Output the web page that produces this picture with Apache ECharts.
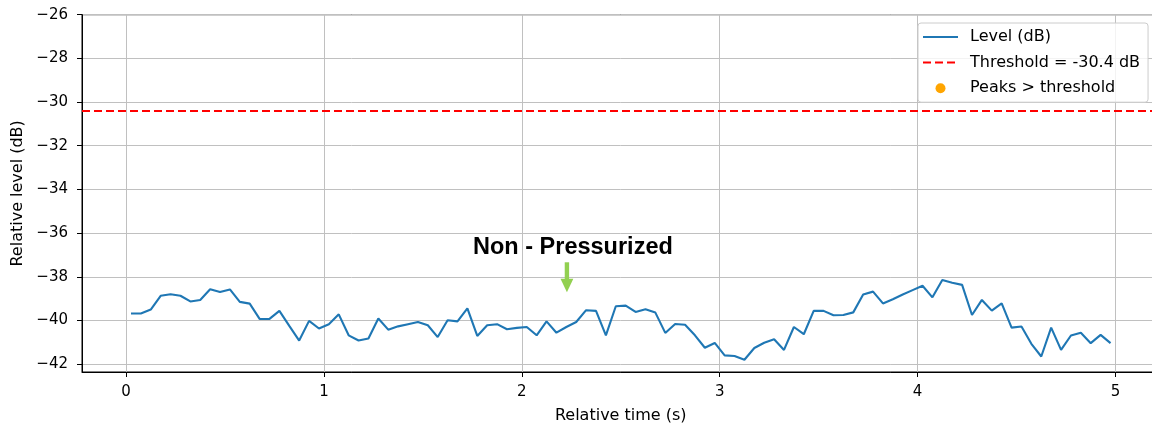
<!DOCTYPE html>
<html>
<head>
<meta charset="utf-8">
<script src="https://cdn.jsdelivr.net/npm/echarts@6/dist/echarts.min.js"></script>
<style>
  html, body { margin: 0; padding: 0; background: #ffffff; width: 1152px; height: 429px; overflow: hidden; }
  #frame { position: relative; width: 1152px; height: 429px; overflow: hidden; }
  /* the axes frame runs a few pixels past the right edge of the view */
  #chart { position: absolute; left: 0; top: 0; width: 1160px; height: 429px; }
</style>
</head>
<body>
<div id="frame"><div id="chart"></div></div>
<script>
// Frame timing of the level analysis (seconds)
const FRAME_HOP = 0.05;
const FRAME_OFFSET = 0.025;

// Relative level per analysis frame (dB)
const levelDb = [
  -39.68, -39.68, -39.50, -38.87, -38.80, -38.87, -39.13, -39.06, -38.57, -38.70,
  -38.58, -39.15, -39.23, -39.93, -39.93, -39.56, -40.25, -40.92, -40.02, -40.37,
  -40.17, -39.72, -40.68, -40.92, -40.83, -39.91, -40.42, -40.27, -40.17, -40.07,
  -40.22, -40.76, -39.99, -40.04, -39.45, -40.71, -40.22, -40.17, -40.40, -40.34,
  -40.30, -40.68, -40.04, -40.56, -40.30, -40.07, -39.53, -39.56, -40.68, -39.35,
  -39.32, -39.61, -39.49, -39.64, -40.57, -40.16, -40.20, -40.68, -41.25, -41.03,
  -41.60, -41.63, -41.80, -41.26, -41.02, -40.86, -41.35, -40.30, -40.63, -39.56,
  -39.56, -39.76, -39.75, -39.63, -38.81, -38.68, -39.22, -39.03, -38.81, -38.61,
  -38.41, -38.94, -38.15, -38.27, -38.37, -39.75, -39.06, -39.55, -39.22, -40.33,
  -40.28, -41.07, -41.65, -40.33, -41.35, -40.69, -40.56, -41.04, -40.66, -41.04
];

// Detected peaks above threshold: [time, level]
const peaks = [];

const thresholdDb = -30.4;

const xTicks = [0, 1, 2, 3, 4, 5];
const yTicks = [-42, -40, -38, -36, -34, -32, -30, -28, -26];
const xRange = [-0.2225, 5.2225];
const yRange = [-42.36, -26];

// Callout: text plus a downward arrow whose tip sits at this (time, level)
const calloutText = 'Non - Pressurized';
const calloutTip = [2.228, -38.71];

const levelSeries = levelDb.map((v, i) => [FRAME_OFFSET + i * FRAME_HOP, v]);

const FONT = 'DejaVu Sans';
const minusFmt = v => (v < 0 ? '\u2212' : '') + Math.abs(v);

const chart = echarts.init(document.getElementById('chart'), null, { renderer: 'canvas' });

chart.setOption({
  animation: false,
  backgroundColor: '#ffffff',
  grid: {
    left: 82, top: 14.7, right: 0.5, bottom: 53.3,
    show: true, borderColor: '#000000', borderWidth: 1, backgroundColor: 'transparent'
  },
  xAxis: {
    type: 'value', min: xRange[0], max: xRange[1],
    name: 'Relative time (s)', nameLocation: 'middle', nameGap: 36,
    nameTextStyle: { fontFamily: FONT, fontSize: 16, color: '#000000' },
    axisLine: { show: true, onZero: false, lineStyle: { color: '#000000', width: 1 } },
    axisTick: { show: true, length: 5, lineStyle: { color: '#000000', width: 1 }, customValues: xTicks },
    axisLabel: { customValues: xTicks, margin: 13, fontFamily: FONT, fontSize: 15, color: '#000000', formatter: minusFmt },
    splitLine: { show: true, lineStyle: { color: '#c0c0c0', width: 1 } }
  },
  yAxis: {
    type: 'value', min: yRange[0], max: yRange[1],
    name: 'Relative level (dB)', nameLocation: 'middle', nameGap: 52,
    nameTextStyle: { fontFamily: FONT, fontSize: 16, color: '#000000' },
    axisLine: { show: true, onZero: false, lineStyle: { color: '#000000', width: 1 } },
    axisTick: { show: true, length: 5, lineStyle: { color: '#000000', width: 1 }, customValues: yTicks },
    axisLabel: { customValues: yTicks, margin: 14, fontFamily: FONT, fontSize: 15, color: '#000000', formatter: minusFmt },
    splitLine: { show: true, lineStyle: { color: '#c0c0c0', width: 1 } }
  },
  legend: {
    orient: 'vertical', left: 918, top: 23,
    padding: [5, 8, 5, 4],
    itemWidth: 35, itemHeight: 10, itemGap: 7.6,
    backgroundColor: 'rgba(255,255,255,0.8)',
    borderColor: '#cccccc', borderWidth: 1, borderRadius: 3,
    textStyle: { fontFamily: FONT, fontSize: 16, color: '#000000', lineHeight: 18, padding: [0, 0, 0, 7] },
    data: [
      { name: 'Level (dB)', itemStyle: { opacity: 0 } },
      { name: 'Threshold = -30.4 dB', itemStyle: { opacity: 0 } },
      { name: 'Peaks > threshold', icon: 'circle' }
    ]
  },
  series: [
    {
      name: 'Level (dB)', type: 'line', data: levelSeries,
      symbol: 'none', lineStyle: { color: '#1f77b4', width: 2.1 }, itemStyle: { color: '#1f77b4' },
      z: 3
    },
    {
      name: 'Threshold = -30.4 dB', type: 'line', data: [],
      symbol: 'none',
      lineStyle: { color: '#ff0000', width: 2, type: [8, 4] }, itemStyle: { color: '#ff0000' },
      markLine: {
        silent: true, symbol: ['none', 'none'], label: { show: false },
        lineStyle: { color: '#ff0000', width: 2, type: [8, 4] },
        data: [{ yAxis: thresholdDb }]
      },
      z: 2
    },
    {
      name: 'Peaks > threshold', type: 'scatter', data: peaks,
      symbolSize: 10, itemStyle: { color: '#ffa500', opacity: 1 }, z: 4
    }
  ]
});

// Place the callout relative to its data anchor
const tip = chart.convertToPixel({ gridIndex: 0 }, calloutTip);
chart.setOption({
  graphic: [{
    type: 'group', x: tip[0], y: tip[1], z: 10,
    children: [
      { type: 'rect', shape: { x: -2.2, y: -30, width: 4.4, height: 18 }, style: { fill: '#92d050' } },
      { type: 'polygon', shape: { points: [[-6.4, -13.5], [6.4, -13.5], [0, 0]] }, style: { fill: '#92d050' } },
      {
        type: 'text', x: 6, y: -44.3,
        style: {
          text: calloutText, fill: '#000000',
          font: 'bold 23.5px "Liberation Sans", Arial, sans-serif',
          align: 'center', verticalAlign: 'middle'
        }
      }
    ]
  }]
});
</script>
</body>
</html>
